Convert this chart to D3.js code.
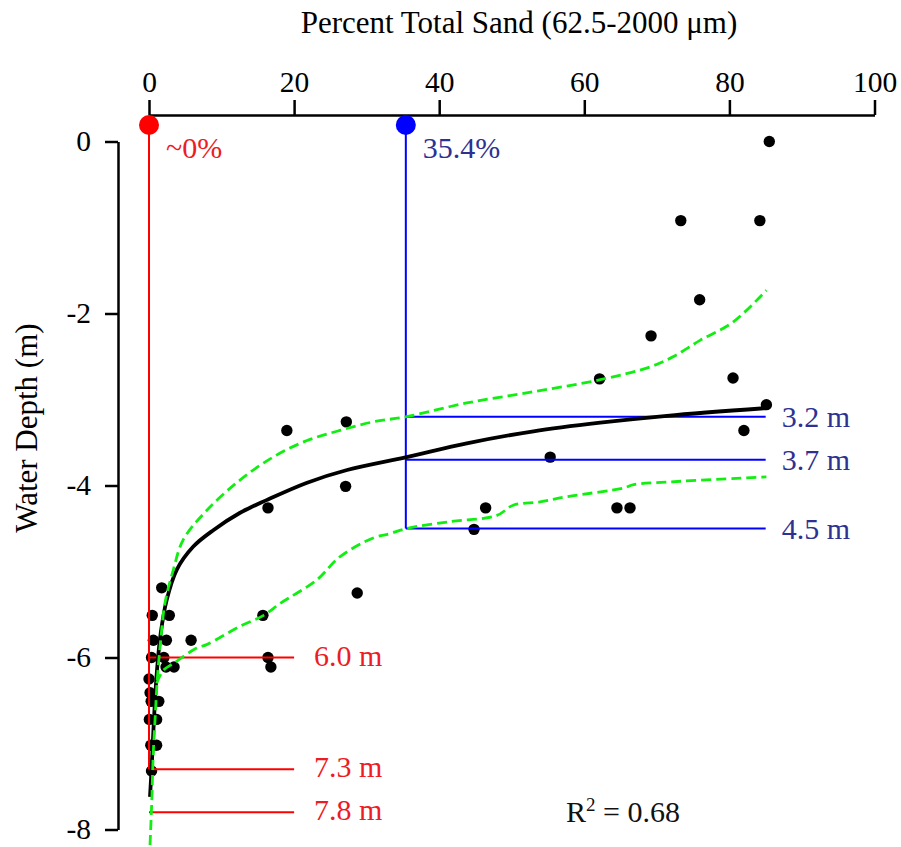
<!DOCTYPE html>
<html>
<head>
<meta charset="utf-8">
<script src="https://cdn.jsdelivr.net/npm/d3@7"></script>
<style>
  html, body { margin: 0; padding: 0; background: #fff; }
  svg { display: block; }
  text { font-family: "Liberation Serif", "Times New Roman", serif; }
</style>
</head>
<body>
<svg id="chart" width="901" height="847"></svg>
<script>
// ---- data ----
const sandPct = [85.5, 73.3, 84.2, 75.9, 69.2, 62.1, 80.5, 85.1, 82.0, 55.3, 46.4, 44.8, 64.5, 66.3,
                 27.2, 19.0, 27.1, 16.4, 28.7, 15.7, 16.4, 16.8,
                 1.75, 0.45, 2.8, 0.6, 2.4, 5.8, 0.35, 2.05, 2.35, 3.45, 0.0, 0.15, 0.3, 1.35, 0.05, 1.05, 0.25, 1.05, 0.35];
const depthM  = [0.0, -0.92, -0.92, -1.84, -2.26, -2.76, -2.75, -3.06, -3.36, -3.67, -4.26, -4.51, -4.26, -4.26,
                 -3.26, -3.36, -4.01, -4.26, -5.25, -5.51, -6.0, -6.11,
                 -5.19, -5.51, -5.51, -5.80, -5.80, -5.80, -6.0, -6.0, -6.11, -6.11, -6.25, -6.41, -6.51, -6.51, -6.72, -6.72, -7.02, -7.02, -7.32];

// fitted curve
const fitSand  = [0.14, 0.37, 0.59, 0.83, 1.14, 1.61, 2.44, 3.82, 6.11, 8.86, 12.5, 16.2, 21.7, 27.3, 35.5, 43.8, 53.0, 62.2, 71.4, 85.1];
const fitDepth = [-7.62, -7.27, -6.88, -6.49, -6.11, -5.72, -5.33, -4.98, -4.71, -4.52, -4.32, -4.17, -3.97, -3.82, -3.67, -3.51, -3.37, -3.27, -3.19, -3.10];

// upper confidence band
const upSand  = [0.14, 0.37, 0.59, 0.83, 1.14, 1.61, 2.2, 3.35, 4.73, 7.95, 12.5, 17.1, 21.7, 26.3, 30.9, 35.5, 43.8, 53.0, 62.2, 69.1, 72.3, 76.0, 80.5, 85.1];
const upDepth = [-8.18, -7.70, -7.11, -6.73, -6.26, -5.80, -5.37, -4.98, -4.63, -4.29, -3.94, -3.67, -3.48, -3.36, -3.26, -3.20, -3.04, -2.91, -2.77, -2.62, -2.50, -2.31, -2.10, -1.73];

// lower confidence band
const loSand  = [1.06, 1.97, 3.35, 6.57, 7.95, 12.5, 15.8, 18.1, 23.1, 26.3, 30.9, 33.2, 35.5, 41.5, 47.9, 50.2, 53.9, 57.6, 65.4, 66.8, 71.4, 85.1];
const loDepth = [-6.30, -6.15, -6.07, -5.89, -5.85, -5.64, -5.51, -5.37, -5.10, -4.83, -4.61, -4.56, -4.50, -4.42, -4.35, -4.23, -4.19, -4.13, -4.03, -3.99, -3.96, -3.90];

// annotations
const redSand = 0;          // "~0%"
const redDepths = [-6.0, -7.3, -7.8];
const redLabels = ["6.0 m", "7.3 m", "7.8 m"];
const redSpanEnd = 20;
const blueSand = 35.4;      // "35.4%"
const blueDepths = [-3.2, -3.7, -4.5];
const blueLabels = ["3.2 m", "3.7 m", "4.5 m"];
const blueSpanEnd = 85;

const xTicks = [0, 20, 40, 60, 80, 100];
const yTicks = [0, -2, -4, -6, -8];
const r2Text = "0.68";

// ---- drawing ----
const svg = d3.select("#chart");
const x = d3.scaleLinear().domain([0, 100]).range([149, 874.5]);
const y = d3.scaleLinear().domain([0, -8]).range([141.5, 829.5]);

const RED = "#ff0000", BLUE = "#0000ff", GREEN = "#11ee11";
const RED_TXT = "#ed1c24", BLUE_TXT = "#2e3192";

// axes
const xAxisY = 115;
const xAxis = svg.append("g").attr("transform", `translate(0,${xAxisY})`)
  .call(d3.axisTop(x).tickValues(xTicks).tickSizeInner(15).tickSizeOuter(0).tickPadding(8).tickFormat(d3.format("d")));
const yAxisX = 118;
const yAxis = svg.append("g").attr("transform", `translate(${yAxisX},0)`)
  .call(d3.axisLeft(y).tickValues(yTicks).tickSizeInner(13).tickSizeOuter(0).tickPadding(14).tickFormat(d => d === 0 ? "0" : "-" + Math.abs(d)));
[xAxis, yAxis].forEach(g => {
  g.select(".domain").attr("stroke", "#000").attr("stroke-width", 2.5);
  g.selectAll(".tick line").attr("stroke", "#000").attr("stroke-width", 2.5);
  g.selectAll(".tick text").attr("fill", "#000").style("font-size", "29.5px").attr("font-family", "Liberation Serif");
});

// titles
svg.append("text").attr("x", 519).attr("y", 33).attr("text-anchor", "middle")
  .style("font-size", "31px").text("Percent Total Sand (62.5-2000 μm)");
svg.append("text").attr("transform", "translate(37,428) rotate(-90)").attr("text-anchor", "middle")
  .style("font-size", "31px").text("Water Depth (m)");

// data points
svg.append("g").selectAll("circle").data(sandPct.map((s, i) => [s, depthM[i]])).join("circle")
  .attr("cx", d => x(d[0])).attr("cy", d => y(d[1])).attr("r", 5.7).attr("fill", "#000");

// red annotation
const dotY = y(0) - 16.5;
svg.append("line").attr("x1", x(redSand)).attr("x2", x(redSand)).attr("y1", dotY).attr("y2", y(d3.min(redDepths.slice(0, 2))))
  .attr("stroke", RED).attr("stroke-width", 2);
svg.append("g").selectAll("line").data(redDepths).join("line")
  .attr("x1", x(redSand)).attr("x2", x(redSpanEnd)).attr("y1", d => y(d)).attr("y2", d => y(d))
  .attr("stroke", RED).attr("stroke-width", 2);
svg.append("g").selectAll("text").data(redDepths).join("text")
  .attr("x", x(redSpanEnd) + 20).attr("y", d => y(d) + 8).attr("fill", RED_TXT).style("font-size", "30px")
  .text((d, i) => redLabels[i]);
svg.append("circle").attr("cx", x(redSand)).attr("cy", dotY).attr("r", 10).attr("fill", RED);
svg.append("text").attr("x", x(redSand) + 17).attr("y", 158).attr("fill", RED_TXT).style("font-size", "30px").text("~0%");

// blue annotation
svg.append("line").attr("x1", x(blueSand)).attr("x2", x(blueSand)).attr("y1", dotY).attr("y2", y(d3.min(blueDepths)))
  .attr("stroke", BLUE).attr("stroke-width", 2);
svg.append("g").selectAll("line").data(blueDepths).join("line")
  .attr("x1", x(blueSand)).attr("x2", x(blueSpanEnd)).attr("y1", d => y(d)).attr("y2", d => y(d))
  .attr("stroke", BLUE).attr("stroke-width", 2);
svg.append("g").selectAll("text").data(blueDepths).join("text")
  .attr("x", x(blueSpanEnd) + 16).attr("y", d => y(d) + 10).attr("fill", BLUE_TXT).style("font-size", "30px")
  .text((d, i) => blueLabels[i]);
svg.append("circle").attr("cx", x(blueSand)).attr("cy", dotY).attr("r", 10).attr("fill", BLUE);
svg.append("text").attr("x", x(blueSand) + 17).attr("y", 158).attr("fill", BLUE_TXT).style("font-size", "30px").text(blueSand + "%");

// fitted curve
const line = d3.line().x(d => x(d[0])).y(d => y(d[1])).curve(d3.curveCatmullRom.alpha(0.5));
svg.append("path").datum(fitSand.map((s, i) => [s, fitDepth[i]]))
  .attr("d", line).attr("fill", "none").attr("stroke", "#000").attr("stroke-width", 3.8);

// confidence bands
[[upSand, upDepth], [loSand, loDepth]].forEach(([xs, ds]) => {
  svg.append("path").datum(xs.map((s, i) => [s, ds[i]]))
    .attr("d", line).attr("fill", "none").attr("stroke", GREEN).attr("stroke-width", 2.8)
    .attr("stroke-dasharray", "10,5");
});

// R^2
const r2 = svg.append("text").attr("x", 566).attr("y", 822).attr("fill", "#111").style("font-size", "30px");
r2.append("tspan").text("R");
r2.append("tspan").attr("dy", -11).style("font-size", "19px").text("2");
r2.append("tspan").attr("dy", 11).text(" = " + r2Text);
</script>
</body>
</html>
